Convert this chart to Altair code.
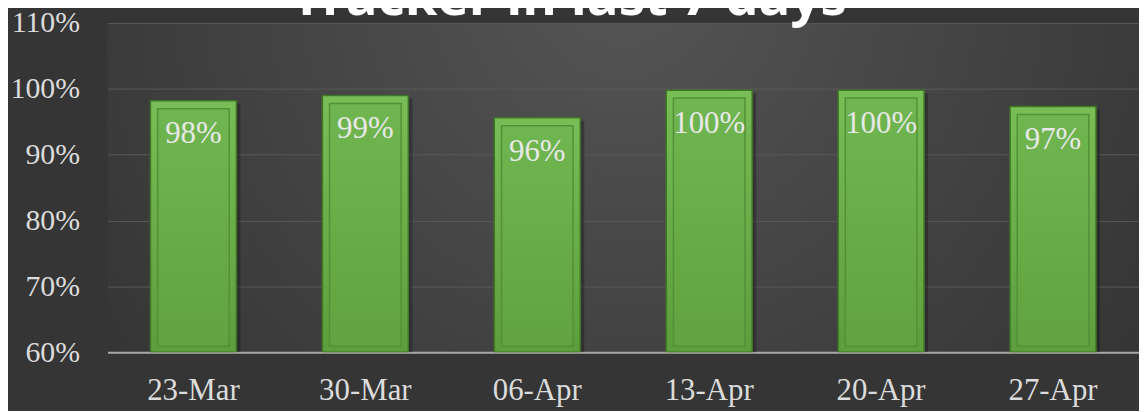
import altair as alt
import pandas as pd

weeks = ["23-Mar", "30-Mar", "06-Apr", "13-Apr", "20-Apr", "27-Apr"]
rates = [0.982, 0.990, 0.956, 0.998, 0.998, 0.973]
labels = ["98%", "99%", "96%", "100%", "100%", "97%"]
y_ticks = [0.6, 0.7, 0.8, 0.9, 1.0, 1.1]
chart_title = ["Tracker in last 7 days"]

df = pd.DataFrame({"week": weeks, "rate": rates, "label": labels})
title_df = pd.DataFrame({"t": chart_title})

serif = "Liberation Serif"

x_enc = alt.X(
    "week:N",
    sort=weeks,
    title=None,
    scale=alt.Scale(paddingInner=0.5, paddingOuter=0.25),
    axis=alt.Axis(
        labelAngle=0,
        labelFont=serif,
        labelFontSize=31,
        labelColor="#dcdcdc",
        labelBaseline="alphabetic",
        labelPadding=48,
        ticks=False,
        grid=False,
        domainColor="#a8a8a8",
        domainWidth=2,
    ),
)
y_scale = alt.Scale(domain=[0.6, 1.1], zero=False, nice=False)
y_enc = alt.Y(
    "rate:Q",
    title=None,
    scale=y_scale,
    axis=alt.Axis(
        values=y_ticks,
        format=".0%",
        labelFont=serif,
        labelFontSize=30,
        labelColor="#dcdcdc",
        labelPadding=28,
        labelBaseline="middle",
        ticks=False,
        domain=False,
        gridColor="#595959",
        gridWidth=1,
    ),
)

base = alt.Chart(df).encode(x=x_enc, y=y_enc, y2=alt.datum(0.6))

shadow = base.mark_bar(color="#111111", opacity=0.35, xOffset=4, yOffset=3, clip=True)

outer = base.mark_bar(
    fill={
        "gradient": "linear",
        "x1": 0, "y1": 0, "x2": 0, "y2": 1,
        "stops": [
            {"offset": 0, "color": "#78bd56"},
            {"offset": 1, "color": "#5c9e3c"},
        ],
    },
    stroke="#3f7626",
    strokeWidth=1.5,
    clip=True,
)

inner = base.mark_bar(
    width=72,
    yOffset=8,
    y2Offset=-6,
    fill={
        "gradient": "linear",
        "x1": 0, "y1": 0, "x2": 0, "y2": 1,
        "stops": [
            {"offset": 0, "color": "#70b650"},
            {"offset": 1, "color": "#60a340"},
        ],
    },
    stroke="#549038",
    strokeWidth=1.5,
    clip=True,
)

text = alt.Chart(df).mark_text(
    font=serif,
    fontSize=31,
    color="#e8e8e8",
    baseline="alphabetic",
    dy=43,
).encode(x=x_enc, y=y_enc, text="label:N")

title_mark = alt.Chart(title_df).mark_text(
    font="Open Sans",
    fontSize=53,
    fontWeight="bold",
    color="#ffffff",
    align="center",
    baseline="alphabetic",
).encode(x=alt.value(464), y=alt.value(-8), text="t:N")

chart = (
    alt.layer(shadow, outer, inner, text, title_mark)
    .properties(
        width=1037,
        height=331,
        padding={"left": 100, "top": 14, "right": 0, "bottom": 58},
        autosize=alt.AutoSizeParams(type="none"),
        background="#353535",
    )
    .configure_view(
        stroke=None,
        fill={"expr": "{gradient:'radial', x1:0.5, y1:0.3, x2:0.5, y2:0.3, r1:0, r2:0.75, stops:[{offset:0,color:'#555555'},{offset:1,color:'#2e2e2e'}]}"},
    )
)

chart.save("out.html", embed_options={"renderer": "svg", "actions": False})
